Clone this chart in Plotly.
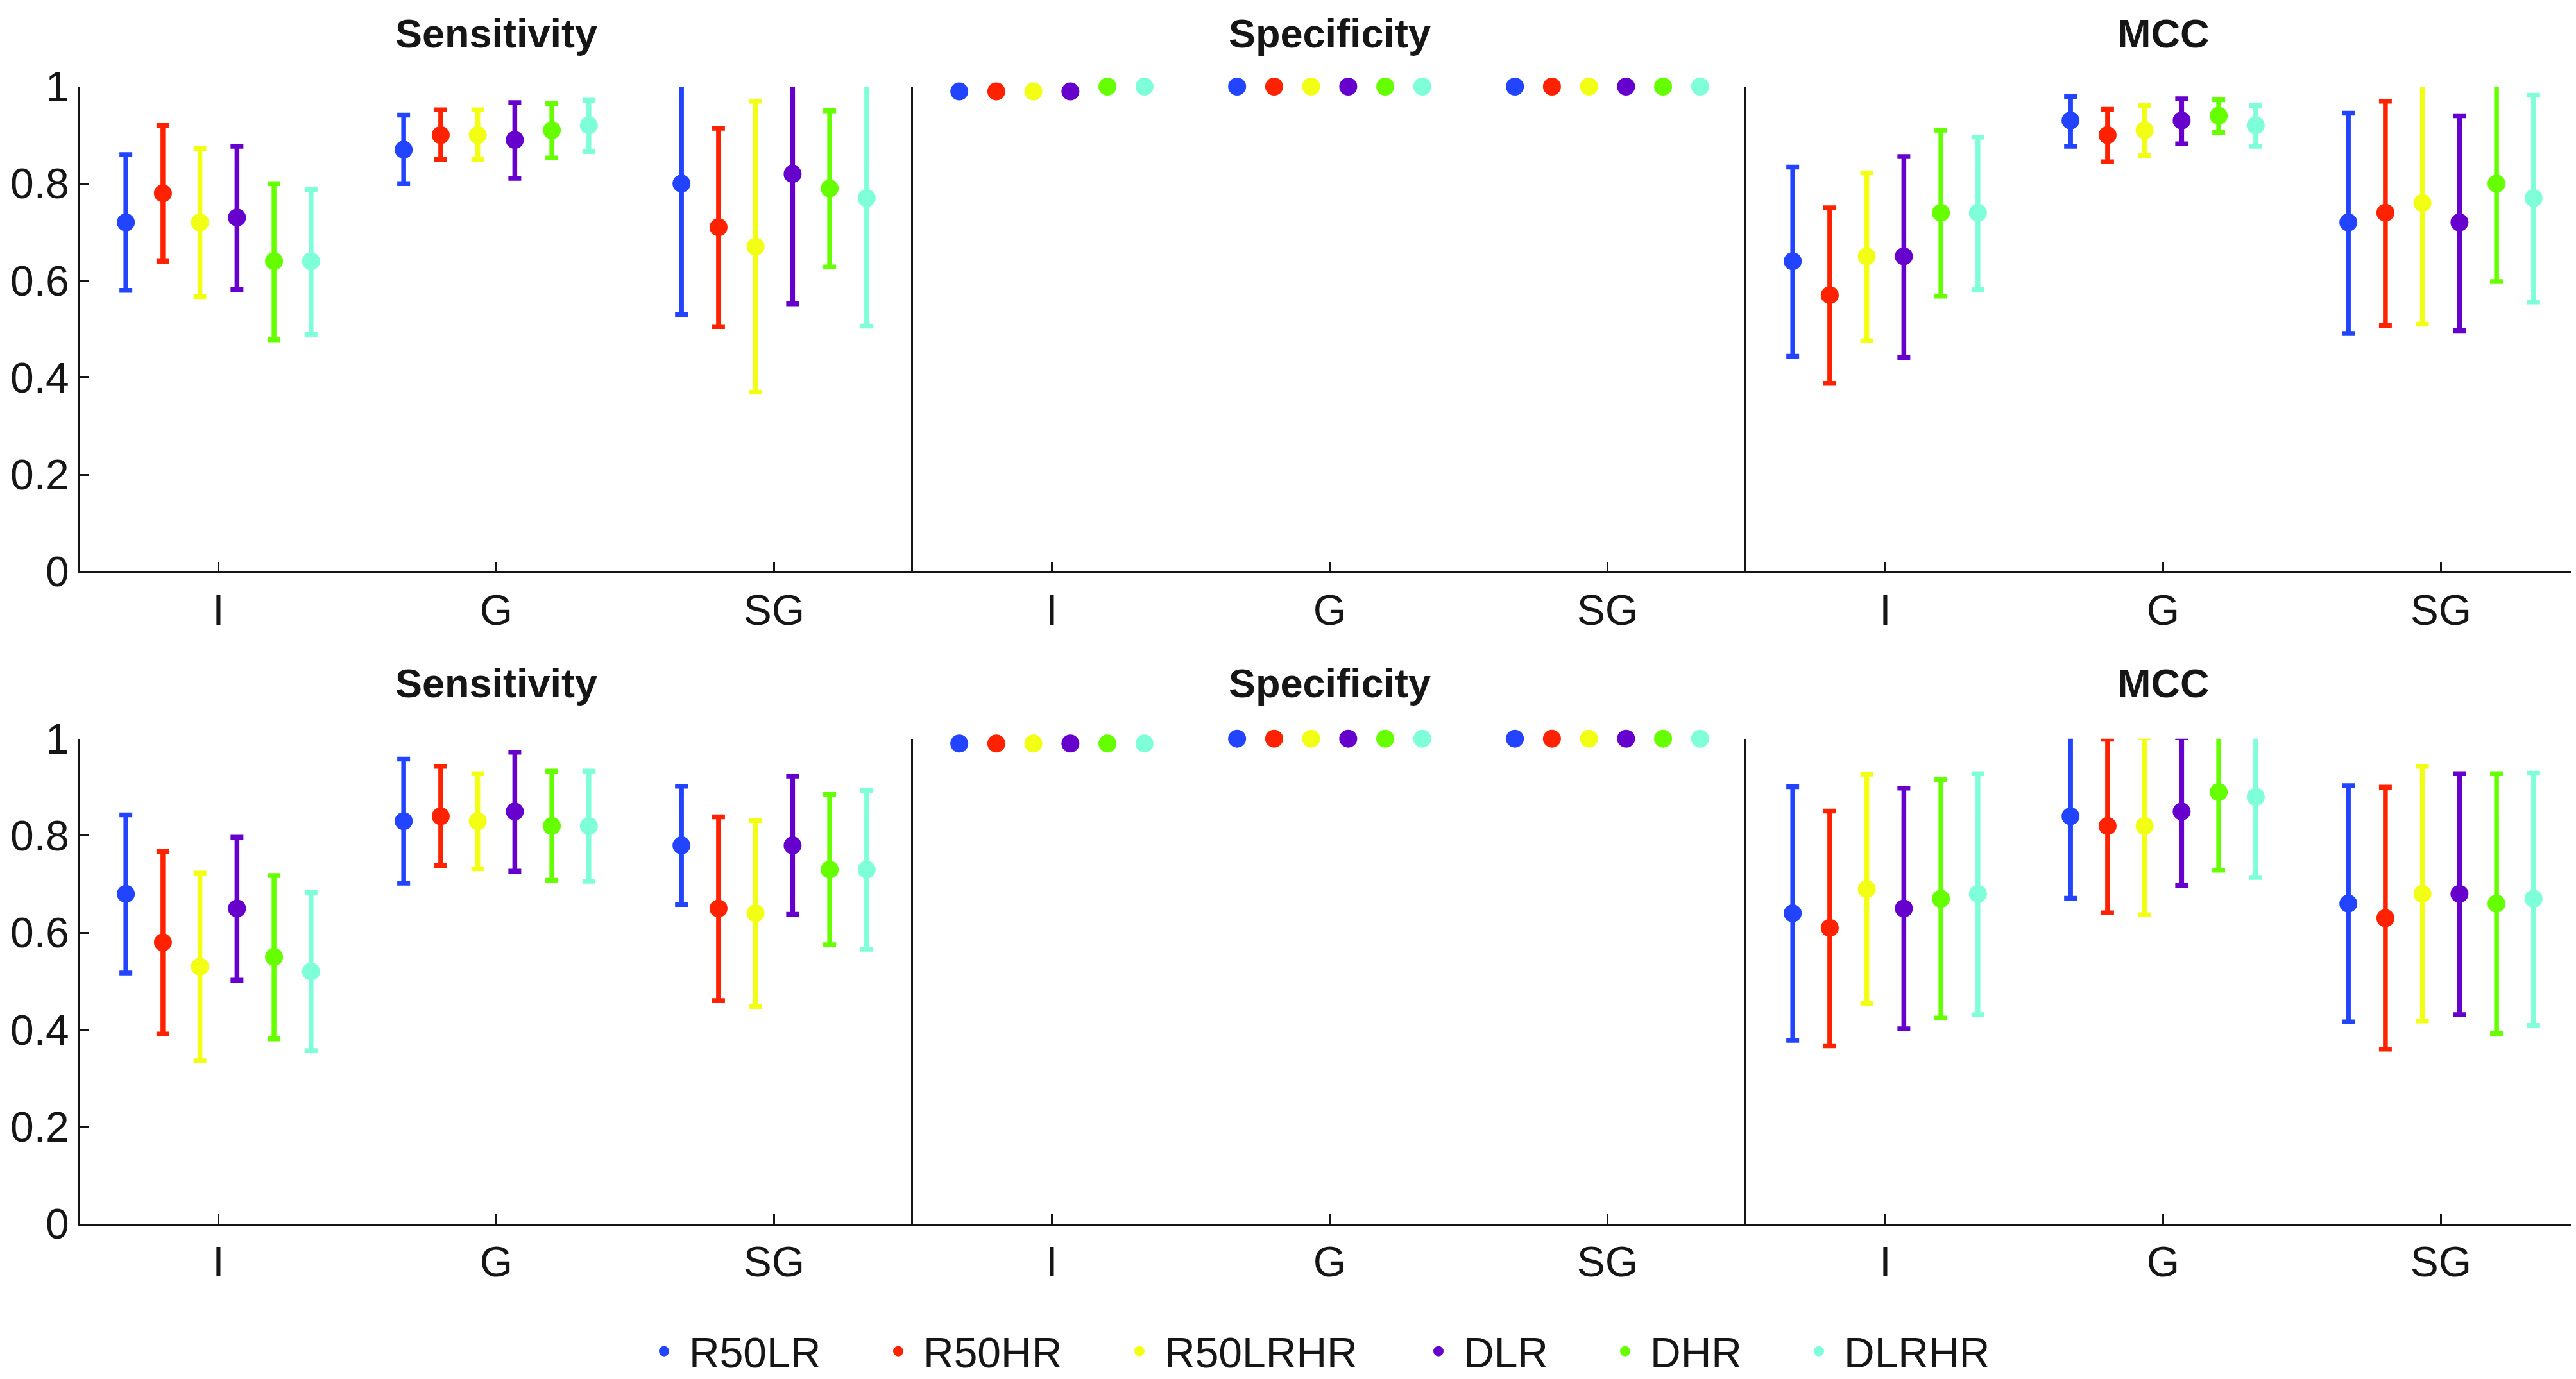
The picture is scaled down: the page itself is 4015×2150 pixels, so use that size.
import plotly.graph_objects as go
from plotly.subplots import make_subplots

# =====================================================
# DATA  (one row per series, values for I, G, SG)
# =====================================================

series = ["R50LR", "R50HR", "R50LRHR", "DLR", "DHR", "DLRHR"]
groups = ["I", "G", "SG"]
metrics = ["Sensitivity", "Specificity", "MCC"]
colors = ["#2244FF", "#FF2200", "#F2FF14", "#6600CC", "#66FF00", "#7FFFD9"]

# ---- top row ----
top_sens_mean = [[0.72, 0.87, 0.80], [0.78, 0.90, 0.71], [0.72, 0.90, 0.67],
                 [0.73, 0.89, 0.82], [0.64, 0.91, 0.79], [0.64, 0.92, 0.77]]
top_sens_lo = [[0.580, 0.800, 0.530], [0.640, 0.850, 0.505], [0.567, 0.850, 0.370],
               [0.582, 0.811, 0.552], [0.478, 0.853, 0.628], [0.489, 0.866, 0.506]]
top_sens_hi = [[0.860, 0.941, 1.070], [0.920, 0.952, 0.914], [0.872, 0.952, 0.970],
               [0.877, 0.967, 1.090], [0.800, 0.965, 0.950], [0.788, 0.972, 1.030]]

top_spec_mean = [[0.99, 1.0, 1.0], [0.99, 1.0, 1.0], [0.99, 1.0, 1.0],
                 [0.99, 1.0, 1.0], [1.0, 1.0, 1.0], [1.0, 1.0, 1.0]]
top_spec_lo = [[0.985, 1.0, 1.0], [0.982, 1.0, 1.0], [0.983, 1.0, 1.0],
               [0.984, 1.0, 1.0], [1.0, 1.0, 1.0], [1.0, 1.0, 1.0]]
top_spec_hi = [[0.995, 1.0, 1.0], [0.998, 1.0, 1.0], [0.997, 1.0, 1.0],
               [0.996, 1.0, 1.0], [1.0, 1.0, 1.0], [1.0, 1.0, 1.0]]

top_mcc_mean = [[0.64, 0.93, 0.72], [0.57, 0.90, 0.74], [0.65, 0.91, 0.76],
                [0.65, 0.93, 0.72], [0.74, 0.94, 0.80], [0.74, 0.92, 0.77]]
top_mcc_lo = [[0.444, 0.877, 0.491], [0.388, 0.845, 0.507], [0.476, 0.858, 0.510],
              [0.441, 0.882, 0.497], [0.568, 0.905, 0.598], [0.582, 0.877, 0.556]]
top_mcc_hi = [[0.834, 0.980, 0.945], [0.750, 0.953, 0.970], [0.822, 0.961, 1.010],
              [0.856, 0.975, 0.940], [0.910, 0.973, 1.010], [0.896, 0.961, 0.982]]

# ---- bottom row ----
bot_sens_mean = [[0.68, 0.83, 0.78], [0.58, 0.84, 0.65], [0.53, 0.83, 0.64],
                 [0.65, 0.85, 0.78], [0.55, 0.82, 0.73], [0.52, 0.82, 0.73]]
bot_sens_lo = [[0.517, 0.702, 0.658], [0.391, 0.738, 0.460], [0.336, 0.732, 0.448],
               [0.502, 0.727, 0.638], [0.381, 0.708, 0.575], [0.357, 0.706, 0.566]]
bot_sens_hi = [[0.843, 0.958, 0.902], [0.768, 0.943, 0.839], [0.723, 0.928, 0.831],
               [0.797, 0.972, 0.923], [0.718, 0.933, 0.885], [0.683, 0.933, 0.893]]

bot_spec_mean = [[0.99, 1.0, 1.0], [0.99, 1.0, 1.0], [0.99, 1.0, 1.0],
                 [0.99, 1.0, 1.0], [0.99, 1.0, 1.0], [0.99, 1.0, 1.0]]
bot_spec_lo = [[0.980, 1.0, 1.0], [0.985, 1.0, 1.0], [0.985, 1.0, 1.0],
               [0.980, 1.0, 1.0], [0.985, 1.0, 1.0], [0.984, 1.0, 1.0]]
bot_spec_hi = [[1.000, 1.0, 1.0], [0.995, 1.0, 1.0], [0.995, 1.0, 1.0],
               [1.000, 1.0, 1.0], [0.995, 1.0, 1.0], [0.996, 1.0, 1.0]]

bot_mcc_mean = [[0.64, 0.84, 0.66], [0.61, 0.82, 0.63], [0.69, 0.82, 0.68],
                [0.65, 0.85, 0.68], [0.67, 0.89, 0.66], [0.68, 0.88, 0.67]]
bot_mcc_lo = [[0.378, 0.671, 0.416], [0.367, 0.641, 0.360], [0.454, 0.637, 0.418],
              [0.402, 0.697, 0.431], [0.424, 0.729, 0.392], [0.431, 0.714, 0.409]]
bot_mcc_hi = [[0.901, 1.009, 0.903], [0.851, 0.999, 0.900], [0.927, 1.003, 0.943],
              [0.898, 1.003, 0.928], [0.916, 1.050, 0.928], [0.928, 1.046, 0.929]]

panels = [
    (1, 1, top_sens_mean, top_sens_lo, top_sens_hi),
    (1, 2, top_spec_mean, top_spec_lo, top_spec_hi),
    (1, 3, top_mcc_mean, top_mcc_lo, top_mcc_hi),
    (2, 1, bot_sens_mean, bot_sens_lo, bot_sens_hi),
    (2, 2, bot_spec_mean, bot_spec_lo, bot_spec_hi),
    (2, 3, bot_mcc_mean, bot_mcc_lo, bot_mcc_hi),
]

# =====================================================
# FIGURE
# =====================================================

W, H = 4015, 2150
ML, MR, MT, MB = 116, 2, 127, 239
PW, PH = W - ML - MR, H - MT - MB

FONT = "Liberation Sans, Arial, Helvetica, sans-serif"
INK = "#161616"

fig = make_subplots(rows=2, cols=3, horizontal_spacing=0, vertical_spacing=262 / PH)

for row, col, mean, lo, hi in panels:
    for k, name in enumerate(series):
        plus = [h - m for h, m in zip(hi[k], mean[k])]
        minus = [m - l for m, l in zip(mean[k], lo[k])]

        # error bars (clipped at the axes, like the original)
        fig.add_trace(
            go.Scatter(
                x=groups, y=mean[k], mode="markers",
                marker=dict(size=2, color=colors[k], opacity=0),
                error_y=dict(type="data", symmetric=False, array=plus, arrayminus=minus,
                             color=colors[k], thickness=7.5, width=10),
                offsetgroup=name, showlegend=False, hoverinfo="skip",
            ),
            row=row, col=col,
        )

        # centre dots (not clipped)
        fig.add_trace(
            go.Scatter(
                x=groups, y=mean[k], mode="markers", name=name,
                marker=dict(size=28, color=colors[k]),
                offsetgroup=name, cliponaxis=False,
                legend="legend" if k == 0 else f"legend{k + 1}",
                showlegend=(row == 1 and col == 1),
            ),
            row=row, col=col,
        )

fig.update_xaxes(
    type="category", categoryorder="array", categoryarray=groups,
    range=[-0.5, 2.5], showline=True, linecolor=INK, linewidth=3,
    ticks="inside", ticklen=15, tickwidth=3, tickcolor=INK,
    tickfont=dict(size=66, color=INK), showgrid=False, zeroline=False,
)
fig.update_yaxes(
    range=[0, 1], showline=True, linecolor=INK, linewidth=3,
    showgrid=False, zeroline=False, showticklabels=False, ticks="",
)
for r in (1, 2):
    fig.update_yaxes(
        row=r, col=1, showticklabels=True, ticks="inside", ticklen=15,
        tickwidth=3, tickcolor=INK, dtick=0.2, tick0=0,
        tickfont=dict(size=66, color=INK),
    )

# panel titles
for r, ty in ((1, 1 + 84 / PH), (2, (H - MB - 1063) / PH)):
    for c, title in enumerate(metrics):
        fig.add_annotation(
            text=title, x=(c + 0.5) / 3, y=ty, xref="paper", yref="paper",
            xanchor="center", yanchor="middle", showarrow=False,
            font=dict(size=63, color=INK, weight="bold", family=FONT),
        )

# one legend per series so the entries sit where the original put them
sym_px = [1037, 1402, 1778, 2244, 2535, 2837]
for k, px in enumerate(sym_px):
    key = "legend" if k == 0 else f"legend{k + 1}"
    fig.update_layout({
        key: dict(
            x=(px - 49 - ML) / PW, xanchor="left",
            y=(H - MB - 2111) / PH, yanchor="middle",
            orientation="h", itemwidth=68,
            font=dict(size=66, color=INK, family=FONT),
            bgcolor="rgba(0,0,0,0)", borderwidth=0,
        )
    })

fig.update_layout(
    width=W, height=H,
    margin=dict(l=ML, r=MR, t=MT, b=MB),
    paper_bgcolor="white", plot_bgcolor="white",
    font=dict(family=FONT, color=INK, size=66),
    scattermode="group", scattergap=0.2,
)

fig.write_html("out.html")
